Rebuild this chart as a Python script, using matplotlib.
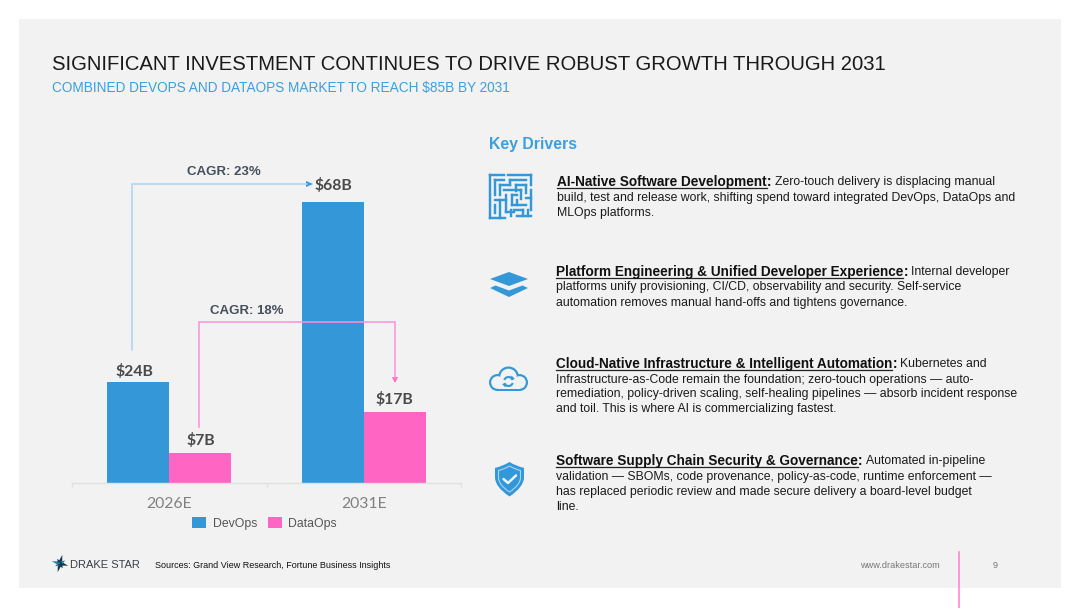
import numpy as np
import matplotlib
matplotlib.use("Agg")
import matplotlib.pyplot as plt
from matplotlib.patches import Rectangle, Circle, Polygon, Arc, PathPatch
from matplotlib.path import Path

# ---------- data ----------
categories = ["2026E", "2031E"]
devops = [24.4, 68]
dataops = [7.2, 17.2]
series_names = ["DevOps", "DataOps"]
value_labels_devops = ["$24B", "$68B"]
value_labels_dataops = ["$7B", "$17B"]
title = "SIGNIFICANT INVESTMENT CONTINUES TO DRIVE ROBUST GROWTH THROUGH 2031"
subtitle = "COMBINED DEVOPS AND DATAOPS MARKET TO REACH $85B BY 2031"
drivers = [
    ("AI-Native Software Development", "Zero-touch delivery is displacing manual",
     ["build, test and release work, shifting spend toward integrated DevOps, DataOps and",
      "MLOps platforms."]),
    ("Platform Engineering & Unified Developer Experience", "Internal developer",
     ["platforms unify provisioning, CI/CD, observability and security. Self-service",
      "automation removes manual hand-offs and tightens governance."]),
    ("Cloud-Native Infrastructure & Intelligent Automation", "Kubernetes and",
     ["Infrastructure-as-Code remain the foundation; zero-touch operations \u2014 auto-",
      "remediation, policy-driven scaling, self-healing pipelines \u2014 absorb incident response",
      "and toil. This is where AI is commercializing fastest."]),
    ("Software Supply Chain Security & Governance", "Automated in-pipeline",
     ["validation \u2014 SBOMs, code provenance, policy-as-code, runtime enforcement \u2014",
      "has replaced periodic review and made secure delivery a board-level budget",
      "line."]),
]

# ---------- style ----------
BLUE = "#3498d8"
PINK = "#ff66c4"
HEAD = "#3b9fe0"
PANEL = "#f2f2f2"
W, H = 1080, 608
SANS = "Liberation Sans"
plt.rcParams["font.family"] = [SANS, "DejaVu Sans"]
PT = 0.72  # points per pixel at dpi 100

fig = plt.figure(figsize=(W / 100, H / 100), dpi=100, facecolor="white")
fig.add_artist(Rectangle((19 / W, 1 - 588 / H), (1061 - 19) / W, (588 - 19) / H,
                         transform=fig.transFigure, fc=PANEL, ec="none", zorder=-1))

# ---------- chart ----------
ax = fig.add_axes([72 / W, 1 - 483 / H, 389 / W, 343 / H])
ax.patch.set_visible(False)
x = np.arange(len(categories))
bw = 0.32
b1 = ax.bar(x - bw / 2, devops, bw, color=BLUE, label=series_names[0], linewidth=0)
b2 = ax.bar(x + bw / 2, dataops, bw, color=PINK, label=series_names[1], linewidth=0)
ax.set_xlim(-0.5, 1.5)
ax.set_ylim(0, 83)
for s in ["top", "left", "right"]:
    ax.spines[s].set_visible(False)
ax.spines["bottom"].set_color("#e0e0e0")
ax.spines["bottom"].set_linewidth(1)
ax.set_yticks([])
ax.set_xticks(x)
ax.set_xticklabels(categories, family="Lato", fontsize=15 * PT + 0.5, color="#808080")
ax.set_xticks([-0.5, 0.5, 1.5], minor=True)
ax.tick_params(axis="x", which="major", length=0, pad=10)
ax.tick_params(axis="x", which="minor", length=3, color="#e0e0e0", width=1)

offs_dev = [(-4, 11), (1, 16)]
offs_data = [(0, 13), (0, 12)]
for xs, vals, labs, offs in [(x - bw / 2, devops, value_labels_devops, offs_dev),
                             (x + bw / 2, dataops, value_labels_dataops, offs_data)]:
    for xi, v, l, o in zip(xs, vals, labs, offs):
        ax.annotate(l, (xi, v), xytext=(o[0] * PT, o[1] * PT), textcoords="offset points",
                    ha="center", va="center", family="Lato", fontweight="bold",
                    fontsize=15 * PT + 0.5, color="#4a4a4a")

ax.legend(handles=[b1, b2], loc="center", bbox_to_anchor=(0.495, -0.119), ncol=2, frameon=False,
          fontsize=12.2 * PT, labelcolor="#555555", handlelength=1.15, handleheight=1.0,
          handletextpad=0.55, columnspacing=0.85, borderpad=0)

# ---------- overlay in pixel coordinates ----------
ov = fig.add_axes([0, 0, 1, 1])
ov.set_xlim(0, W)
ov.set_ylim(H, 0)
ov.axis("off")
ov.patch.set_visible(False)


def T(px, py, s, size, color="black", weight="normal", family=SANS, ha="left"):
    return ov.text(px, py, s, fontsize=size * PT, color=color, fontweight=weight,
                   family=family, ha=ha, va="center")


T(52, 64.5, title, 20.25, "#1a1a1a")
T(52, 88, subtitle, 13.58, HEAD)
T(489, 144, "Key Drivers", 15.9, HEAD, "bold")

# connectors
ov.plot([132, 132, 307], [350, 184, 184], color="#a8d5f2", lw=1.1, solid_joinstyle="miter")
ov.add_patch(Polygon([[306, 181], [313, 184], [306, 187]], fc=BLUE, ec="none"))
ov.plot([198.5, 198.5, 395, 395], [427, 322, 322, 378], color="#ff8fd6", lw=1.1, solid_joinstyle="miter")
ov.add_patch(Polygon([[392, 377], [398, 377], [395, 383]], fc=PINK, ec="none"))
T(224, 172, "CAGR: 23%", 13.2, "#46505c", "bold", ha="center")
T(247, 310.5, "CAGR: 18%", 13.2, "#46505c", "bold", ha="center")

# driver text
starts = [(557, [182, 198, 213]), (556, [272, 287, 303]),
          (556, [364, 380, 394, 409]), (556, [461, 477, 492, 507])]
fig.canvas.draw()
rend = fig.canvas.get_renderer()
to_ov = ov.transData.inverted()
for (head, rest, others), (px, ys) in zip(drivers, starts):
    h = T(px, ys[0], head, 13.6, "#111111", "bold")
    end = to_ov.transform((h.get_window_extent(rend).x1, 0))[0]
    ov.plot([px, end], [ys[0] + 5.5, ys[0] + 5.5], color="#222222", lw=0.9)
    c = T(end, ys[0], ":", 13.6, "#111111", "bold")
    end2 = to_ov.transform((c.get_window_extent(rend).x1, 0))[0]
    T(end2 + 3.5, ys[0], rest, 12.25, "#1a1a1a")
    for y, l in zip(ys[1:], others):
        T(px, y, l, 12.25, "#1a1a1a")

# --- icon: maze
mx, my = 489.5, 174.5
maze = [
    [(0, 0), (14, 0)], [(18, 0), (41, 0)], [(0, 0), (0, 43)], [(41, 0), (41, 10)],
    [(5, 5), (5, 20)], [(5, 5), (14, 5)], [(10, 10), (20, 10)], [(20, 5), (20, 10)],
    [(20, 5), (36, 5)], [(26, 10), (36, 10)], [(36, 10), (36, 18)], [(26, 10), (26, 16)],
    [(14, 15), (31, 15)], [(31, 15), (31, 24)], [(10, 10), (10, 20)], [(5, 25), (16, 25)],
    [(16, 20), (16, 37)], [(22, 20), (27, 20)], [(22, 20), (22, 30)], [(22, 30), (36, 30)],
    [(36, 23), (41, 23)], [(41, 15), (41, 35)], [(10, 25), (10, 43)], [(0, 43), (15, 43)],
    [(5, 30), (5, 38)], [(16, 37), (24, 37)], [(24, 35), (33, 35)], [(33, 35), (33, 41)],
    [(38, 35), (38, 41)], [(27, 41), (41, 41)], [(27, 25), (27, 30)], [(21, 35), (21, 41)],
]
for (a, b) in maze:
    ov.plot([mx + a[0], mx + b[0]], [my + a[1], my + b[1]], color=BLUE, lw=1.75, solid_capstyle="projecting")

# --- icon: layers
ov.add_patch(Polygon([[490, 288], [495.5, 285.5], [509, 290.5], [522.5, 285.5], [528, 288], [509, 297]],
                     fc=BLUE, ec="none"))
ov.add_patch(Polygon([[490, 279], [509, 272], [528, 279], [509, 286]], fc=BLUE, ec="none"))

# --- icon: cloud
for c, r in [((497.5, 382.5), 8.5), ((508.5, 377), 10.5), ((519.5, 382.5), 8.5)]:
    ov.add_patch(Circle(c, r, fc=BLUE, ec="none", zorder=3))
ov.add_patch(Rectangle((497.5, 382), 22, 9, fc=BLUE, ec="none", zorder=3))
for c, r in [((497.5, 382.5), 6.3), ((508.5, 377), 8.3), ((519.5, 382.5), 6.3)]:
    ov.add_patch(Circle(c, r, fc=PANEL, ec="none", zorder=4))
ov.add_patch(Rectangle((497.5, 378), 22, 10.8, fc=PANEL, ec="none", zorder=4))
ov.add_patch(Arc((508.5, 381.5), 9, 9, theta1=200, theta2=340, color=BLUE, lw=1.5, zorder=5))
ov.add_patch(Arc((508.5, 381.5), 9, 9, theta1=20, theta2=160, color=BLUE, lw=1.5, zorder=5))
ov.add_patch(Polygon([[511.5, 375.5], [515, 379], [510.5, 379.5]], fc=BLUE, ec="none", zorder=5))
ov.add_patch(Polygon([[505.5, 387.5], [502, 384], [506.5, 383.5]], fc=BLUE, ec="none", zorder=5))


# --- icon: shield
def shield(cx, top, hw, h):
    verts = [(cx, top), (cx + hw * 0.5, top + h * 0.13), (cx + hw, top + h * 0.17),
             (cx + hw, top + h * 0.45), (cx + hw, top + h * 0.72), (cx, top + h),
             (cx, top + h), (cx, top + h), (cx - hw, top + h * 0.72), (cx - hw, top + h * 0.45),
             (cx - hw, top + h * 0.17), (cx - hw * 0.5, top + h * 0.13), (cx, top), (cx, top)]
    codes = [Path.MOVETO, Path.CURVE3, Path.CURVE3, Path.LINETO, Path.CURVE3, Path.CURVE3,
             Path.LINETO, Path.LINETO, Path.CURVE3, Path.CURVE3, Path.LINETO, Path.CURVE3, Path.CURVE3, Path.CLOSEPOLY]
    return Path(verts, codes)


ov.add_patch(PathPatch(shield(509.5, 462, 14.5, 34.5), fc=BLUE, ec="none", zorder=3))
ov.add_patch(PathPatch(shield(509.5, 466, 11, 26), fc=BLUE, ec="#a9d6f3", lw=0.8, zorder=4))
ov.plot([503.5, 508, 516], [479, 483, 475.5], color="#e8f4fc", lw=1.8, zorder=5, solid_capstyle="round")

# --- footer
for ang, ln, col in [(75, 9, "#16364a"), (255, 9, "#16364a"), (345, 8.5, "#16364a"), (165, 8.5, "#1f7fa6"),
                     (30, 6, "#1f7fa6"), (120, 5.5, "#16364a"), (210, 5.5, "#1f7fa6"), (300, 5.5, "#16364a")]:
    t = np.deg2rad(ang)
    cx, cy = 60, 563.5
    ux, uy = np.cos(t), -np.sin(t)
    px_, py_ = -uy, ux
    ov.add_patch(Polygon([[cx + ux * ln, cy + uy * ln], [cx + px_ * 2.2, cy + py_ * 2.2], [cx - px_ * 2.2, cy - py_ * 2.2]],
                         fc=col, ec="none"))
T(70, 565, "DRAKE STAR", 11.1, "#3a3f45")
T(155, 565.5, "Sources: Grand View Research, Fortune Business Insights", 9.0, "#111111")
T(860, 565, "www.drakestar.com", 9.2, "#777777")
T(993, 565, "9", 9.2, "#777777")
ov.plot([959, 959], [552, 608], color="#ff7fd0", lw=1.1)

fig.savefig("out.png", dpi=100, facecolor="white")
